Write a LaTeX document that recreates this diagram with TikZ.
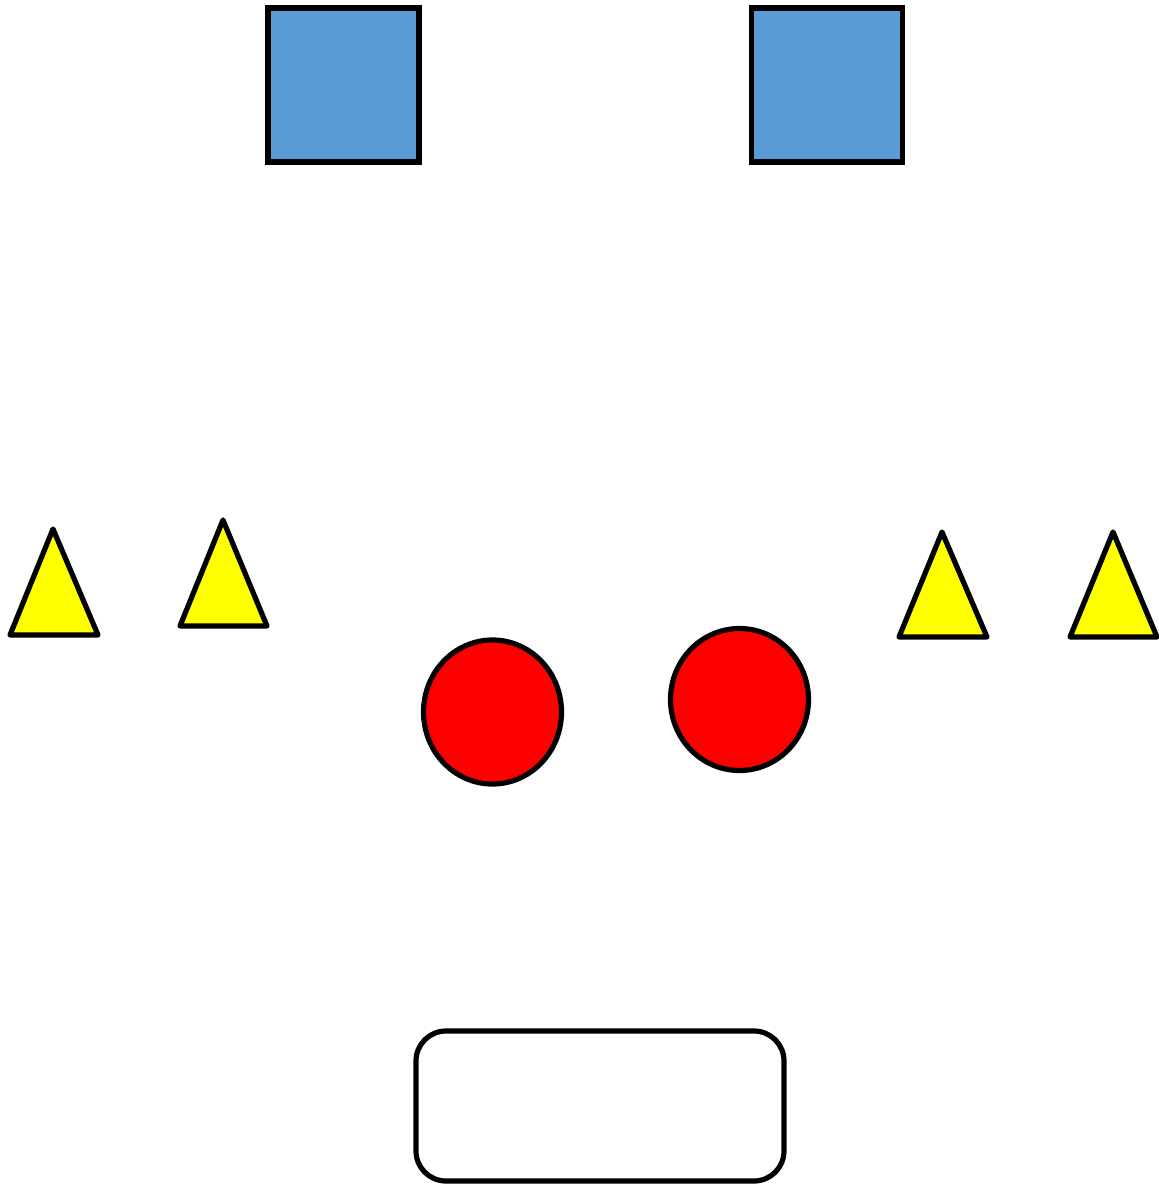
\documentclass[tikz,border=0pt]{standalone}
\usepackage{tikz}
\usetikzlibrary{positioning,shapes.geometric}

\definecolor{sqblue}{HTML}{5B9BD5}
\definecolor{conyellow}{RGB}{255,255,0}
\definecolor{dotred}{RGB}{255,0,0}

\begin{document}
\begin{tikzpicture}[
  x=0.5pt,y=-0.5pt,
  sq/.style={draw,fill=sqblue,line width=2.6pt,inner sep=0pt,minimum width=75.5pt,minimum height=77pt},
  dot/.style={ellipse,draw,fill=dotred,line width=2.6pt,inner sep=0pt,minimum width=69pt,minimum height=72pt},
  tri/.style={draw,fill=conyellow,line width=2.6pt,line join=round},
  pad/.style={draw,rounded corners=15pt,line width=2.6pt,inner sep=0pt,minimum width=184pt,minimum height=75pt}
]
\useasboundingbox (0,0) rectangle (1159,1184);
\node[sq] (sqA) at (343.5,85) {};
\node[sq] (sqB) at (827,85) {};
\draw[tri] (53,529) -- (98,635) -- (10,635) -- cycle;
\draw[tri] (223,520) -- (267,626) -- (180,626) -- cycle;
\draw[tri] (942,532) -- (987,637) -- (899,637) -- cycle;
\draw[tri] (1113,532) -- (1157,637) -- (1070,637) -- cycle;
\node[dot] (dotA) at (492.5,712) {};
\node[dot,minimum height=71pt] (dotB) at (739.5,699.5) {};
\node[pad] (pad) at (600,1106) {};
\end{tikzpicture}
\end{document}
